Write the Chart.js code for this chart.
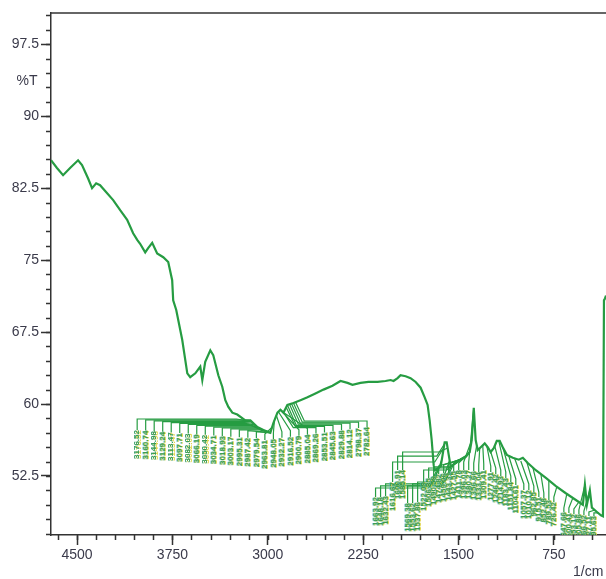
<!DOCTYPE html>
<html>
<head>
<meta charset="utf-8">
<script src="https://cdn.jsdelivr.net/npm/chart.js@4.4.1/dist/chart.umd.min.js"></script>
<style>
  html, body { margin: 0; padding: 0; background: #fff; }
  #wrap { width: 606px; height: 579px; }
</style>
</head>
<body>
<div id="wrap"><canvas id="irChart" width="606" height="579"></canvas></div>
<script>
// spectrum (wavenumber 1/cm, %T)
const specWn = [4705,4658,4610,4555,4492,4461,4413,4382,4350,4319,4272,4216,4161,4106,4059,4027,4004,3964,3941,3909,
  3870,3822,3783,3752,3744,3720,3673,3633,3610,3570,3531,3515,3492,3452,3429,3389,3358,3334,3310,3279,
  3240,3177,3137,3082,3035,2980,2956,2924,2901,2877,2846,2798,2743,2688,2625,2562,2491,2428,2373,2334,
  2271,2208,2137,2074,2034,2011,1979,1956,1916,1877,1837,1798,1766,1743,1727,1711,1695,1688,
  1664,1640,1625,1609,1593,1577,1562,1522,1483,1443,1412,1396,1380,1365,1349,1325,1294,1270,1247,1223,
  1199,1176,1152,1120,1073,1026,994,955,892,813,734,656,577,522,506,490,467,451,411,380,364,356,348,340];
const specT = [85.4,84.6,83.85,84.6,85.4,84.9,83.5,82.5,83.0,82.8,82.1,81.25,80.2,79.2,77.8,77.1,76.7,75.8,76.25,76.8,
  75.7,75.3,74.8,72.9,70.8,69.8,66.7,63.2,62.8,63.2,63.9,62.5,64.4,65.6,65.1,63.0,61.8,60.4,59.7,59.1,
  58.9,58.3,58.3,57.6,57.3,57.0,58.0,59.1,59.4,59.1,59.9,60.1,60.4,60.7,61.1,61.5,61.9,62.4,62.2,62.0,
  62.2,62.3,62.3,62.4,62.5,62.4,62.7,63.0,62.9,62.7,62.3,61.7,60.7,59.9,58.3,56.25,53.6,53.1,
  53.3,53.5,54.7,56.0,56.0,54.7,53.5,53.85,54.2,54.5,55.0,56.25,59.6,56.25,55.2,55.5,55.9,55.5,55.0,55.4,
  56.15,56.15,55.5,54.7,54.4,54.2,54.4,53.85,53.1,52.3,51.45,50.7,50.0,49.5,51.6,49.5,51.0,49.2,48.75,48.4,48.3,70.8,71.0,71.3];

// peak labels, 4000-2200 group
const hiPeakWn = [3176.52,3160.74,3144.98,3129.24,3113.47,3097.71,3082.03,3066.19,3050.42,3034.71,3018.93,3003.17,2995.31,2987.42,
  2979.54,2963.81,2948.05,2932.27,2916.52,2900.79,2885.04,2869.26,2853.51,2845.63,2829.88,2814.12,2798.37,2782.64];
const hiPeakT = [58.3,58.3,58.3,58.2,58.0,57.8,57.6,57.5,57.4,57.3,57.2,57.15,57.1,57.05,
  57.0,57.6,58.3,58.8,59.2,59.4,59.2,59.0,59.6,59.9,60.0,60.05,60.1,60.2];
const hiLabelWn = [4027.3,3960.4,3893.4,3826.4,3759.5,3692.5,3625.5,3558.6,3491.6,3424.7,3357.7,3290.7,3223.8,3156.8,
  3089.8,3022.9,2955.9,2888.9,2822.0,2755.0,2688.1,2621.1,2554.1,2487.2,2420.2,2353.2,2286.3,2219.3];
const hiJoinT = [58.44,58.34,58.25,58.16,58.06,57.97,57.88,57.78,57.69,57.59,57.5,57.41,57.31,57.22,
  57.13,56.875,56.99,57.10,57.21,57.32,57.44,57.55,57.67,57.78,57.89,58.0,58.11,58.23];
const hiLabelT = [57.29,57.23,57.17,57.10,57.04,56.98,56.92,56.85,56.79,56.73,56.67,56.6,56.54,56.48,
  56.42,56.25,56.36,56.48,56.59,56.70,56.81,56.93,57.04,57.16,57.27,57.375,57.49,57.6];

// peak labels, fingerprint group
const loPeakWn = [1663.92,1648.18,1632.43,1616.67,1600.91,1585.14,1569.38,1553.62,1537.86,1522.09,1506.35,1490.59,1474.82,1459.06,
  1443.31,1427.55,1411.78,1396.03,1380.27,1356.66,1333.04,1309.41,1277.91,1246.42,1214.93,1183.43,1151.84,1104.61,
  1057.37,1010.12,962.85,915.51,852.48,789.53,726.42,647.66,600.41,553.12,505.86,466.52,427.11,395.63];
const loPeakT = [53.33,53.47,54.17,55.42,56.04,55.42,54.17,53.6,53.73,53.85,53.98,54.1,54.23,54.35,
  54.48,54.74,55.0,56.25,59.58,55.73,55.42,55.73,55.66,55.0,55.63,56.15,55.52,54.58,
  54.3,54.06,53.96,53.4,52.71,52.04,51.39,50.66,50.22,49.79,51.56,51.04,48.96,48.65];
const loLabelWn = [2152.4,2113.0,2073.6,2018.4,1979.0,1939.6,1900.3,1860.9,1821.5,1774.2,1734.8,1695.4,1656.0,1616.7,
  1577.3,1537.9,1498.5,1459.1,1419.7,1380.3,1340.9,1301.5,1246.4,1207.0,1167.6,1128.2,1088.8,1049.4,
  986.4,947.0,907.6,868.2,828.9,789.5,750.1,671.3,631.9,592.5,553.1,513.7,474.3,435.0];
const loJoinT = [51.25,51.46,51.67,53.96,54.58,55.0,51.46,51.67,51.875,53.125,53.33,53.44,53.54,53.65,
  53.75,53.85,53.85,53.96,53.96,53.85,53.65,53.75,53.54,53.33,53.125,52.92,52.5,52.19,
  51.67,51.67,51.46,50.83,50.73,50.52,50.31,49.17,49.17,49.06,48.96,48.85,48.75,48.65];
const loLabelT = [50.31,50.31,50.42,51.875,53.125,53.125,49.69,49.69,49.79,51.875,52.29,52.5,52.71,52.81,
  52.92,53.02,53.125,53.125,53.125,53.02,52.92,53.125,52.92,52.71,52.5,52.29,51.875,51.56,
  51.04,51.04,50.83,50.31,50.21,50.0,49.79,48.75,48.65,48.54,48.54,48.44,48.33,48.33];

// axis ticks
const xMajor = [4500,3750,3000,2250,1500,750];
const yMajor = [52.5,60,67.5,75,82.5,90,97.5];

const green = 'rgb(38,156,66)';
const axisCol = '#333';
const tickFont = { family: 'Liberation Sans, Arial, sans-serif', size: 14 };

var datasets = [];
datasets.push({
  data: specWn.map(function(w, i) { return { x: w, y: specT[i] }; }),
  borderColor: green, borderWidth: 2.2, pointRadius: 0, tension: 0
});

// leader: peak -> bend -> along -> down to label
function addLeaders(pw, pt, lw, jt, lt) {
  for (var i = 0; i < pw.length; i++) {
    var pts = [{ x: pw[i], y: pt[i] }];
    var d = lw[i] - pw[i];
    if (Math.abs(d) > 200) pts.push({ x: pw[i] + (d > 0 ? 70 : -70), y: jt[i] });
    pts.push({ x: lw[i], y: jt[i] });
    pts.push({ x: lw[i], y: lt[i] });
    datasets.push({
      data: pts,
      borderColor: green, borderWidth: 1.2, pointRadius: 0, tension: 0
    });
  }
}
addLeaders(hiPeakWn, hiPeakT, hiLabelWn, hiJoinT, hiLabelT);
addLeaders(loPeakWn, loPeakT, loLabelWn, loJoinT, loLabelT);

// vertical peak labels + minor ticks + frame text
const extras = {
  id: 'extras',
  afterDatasetsDraw: function(chart) {
    var ctx = chart.ctx, xs = chart.scales.x, ys = chart.scales.y, a = chart.chartArea;
    ctx.save();
    ctx.beginPath();
    ctx.rect(a.left, a.top, a.right - a.left, a.bottom - a.top);
    ctx.clip();
    ctx.font = 'bold 8px Liberation Sans, Arial, sans-serif';
    ctx.textAlign = 'right';
    ctx.textBaseline = 'middle';
    function drawSet(pw, lw, lt) {
      for (var i = 0; i < pw.length; i++) {
        var px = xs.getPixelForValue(lw[i]);
        var py = ys.getPixelForValue(lt[i]);
        var txt = pw[i].toFixed(2);
        var layers = [[1.2, 'rgba(222,210,60,0.9)'], [-0.8, 'rgba(70,170,200,0.5)'], [0, 'rgba(45,150,70,0.85)']];
        for (var k = 0; k < layers.length; k++) {
          ctx.save();
          ctx.translate(px + layers[k][0], py);
          ctx.rotate(-Math.PI / 2);
          ctx.fillStyle = layers[k][1];
          ctx.fillText(txt, 0, 0);
          ctx.restore();
        }
      }
    }
    drawSet(hiPeakWn, hiLabelWn, hiLabelT);
    drawSet(loPeakWn, loLabelWn, loLabelT);
    ctx.restore();
  },
  afterDraw: function(chart) {
    var ctx = chart.ctx, xs = chart.scales.x, ys = chart.scales.y, a = chart.chartArea;
    ctx.save();
    ctx.strokeStyle = axisCol;
    ctx.lineWidth = 1.5;
    // top frame line
    ctx.beginPath();
    ctx.moveTo(a.left, a.top);
    ctx.lineTo(a.right, a.top);
    ctx.stroke();
    // minor ticks
    ctx.beginPath();
    for (var v = 46.5; v <= 100.6; v += 1.5) {
      var y = Math.round(ys.getPixelForValue(v)) + 0.5;
      ctx.moveTo(a.left - 5, y);
      ctx.lineTo(a.left, y);
    }
    for (var w = 450; w <= 4650; w += 150) {
      var x = Math.round(xs.getPixelForValue(w)) + 0.5;
      ctx.moveTo(x, a.bottom);
      ctx.lineTo(x, a.bottom + 5);
    }
    ctx.stroke();
    ctx.fillStyle = '#3a3a4a';
    ctx.font = '14px Liberation Sans, Arial, sans-serif';
    ctx.textAlign = 'center';
    ctx.textBaseline = 'middle';
    ctx.fillText('%T', 27, ys.getPixelForValue(93.6));
    ctx.textAlign = 'left';
    ctx.fillText('1/cm', 573, 572);
    ctx.restore();
  }
};

new Chart(document.getElementById('irChart'), {
  type: 'line',
  data: { datasets: datasets },
  options: {
    responsive: false,
    animation: false,
    layout: { padding: { top: 13, right: 0, left: 0, bottom: 0 } },
    plugins: { legend: { display: false }, tooltip: { enabled: false } },
    scales: {
      x: {
        type: 'linear', reverse: true, min: 340, max: 4705,
        afterBuildTicks: function(s) { s.ticks = xMajor.map(function(v) { return { value: v }; }); },
        afterFit: function(s) { s.height = 44; },
        ticks: { color: '#3a3a4a', font: tickFont, padding: 2, maxRotation: 0, autoSkip: false,
          callback: function(v) { return String(v); } },
        grid: { drawOnChartArea: false, tickLength: 10, tickColor: axisCol, tickWidth: 1.5 },
        border: { display: true, color: axisCol, width: 1.5 }
      },
      y: {
        type: 'linear', min: 46.35, max: 100.75,
        afterBuildTicks: function(s) { s.ticks = yMajor.map(function(v) { return { value: v }; }); },
        afterFit: function(s) { s.width = 51; },
        ticks: { color: '#3a3a4a', font: tickFont, padding: 2, autoSkip: false,
          callback: function(v) { return String(v); } },
        grid: { drawOnChartArea: false, tickLength: 10, tickColor: axisCol, tickWidth: 1.5 },
        border: { display: true, color: axisCol, width: 1.5 }
      }
    }
  },
  plugins: [extras]
});
</script>
</body>
</html>
